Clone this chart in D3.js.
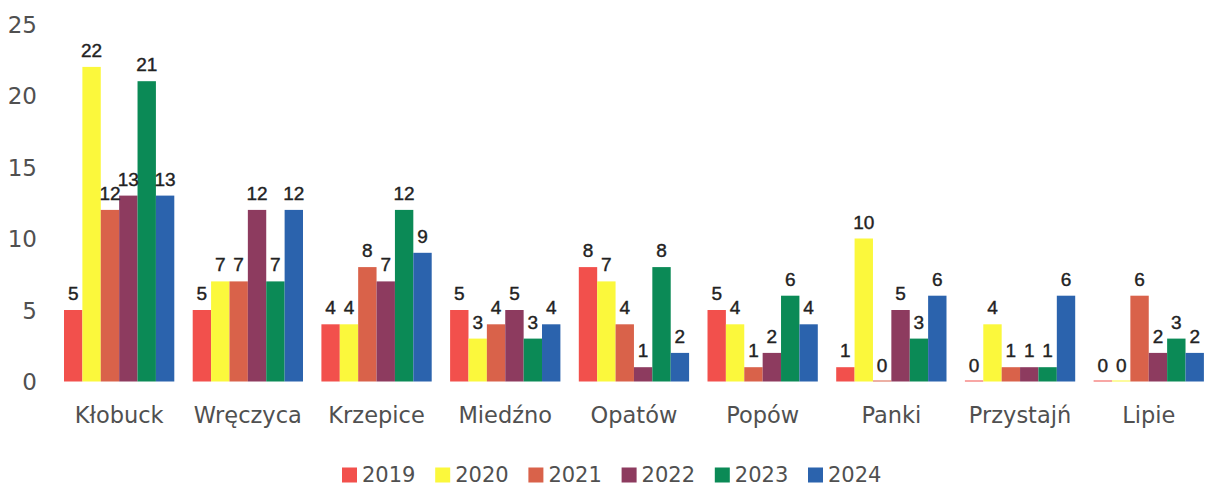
<!DOCTYPE html>
<html>
<head>
<meta charset="utf-8">
<script src="https://cdn.jsdelivr.net/npm/d3@7"></script>
<style>
  html, body { margin: 0; padding: 0; background: #ffffff; }
  svg { display: block; }
</style>
</head>
<body>
<svg id="chart" width="1206" height="486"></svg>
<script>
const categories = ["Kłobuck", "Wręczyca", "Krzepice", "Miedźno", "Opatów", "Popów", "Panki", "Przystajń", "Lipie"];
const seriesNames = ["2019", "2020", "2021", "2022", "2023", "2024"];
const v2019 = [5, 5, 4, 5, 8, 5, 1, 0, 0];
const v2020 = [22, 7, 4, 3, 7, 4, 10, 4, 0];
const v2021 = [12, 7, 8, 4, 4, 1, 0, 1, 6];
const v2022 = [13, 12, 7, 5, 1, 2, 5, 1, 2];
const v2023 = [21, 7, 12, 3, 8, 6, 3, 1, 3];
const v2024 = [13, 12, 9, 4, 2, 4, 6, 6, 2];
const yTicks = [0, 5, 10, 15, 20, 25];
const colors = ["#f2504c", "#fbf83c", "#d9624a", "#8d3b5f", "#0b8a56", "#2b63ad"];

const seriesValues = [v2019, v2020, v2021, v2022, v2023, v2024];
const rows = categories.map((c, i) => ({
  cat: c,
  vals: seriesNames.map((s, j) => ({ series: s, value: seriesValues[j][i], idx: j }))
}));

const svg = d3.select("#chart");
const baseY = 381.5, topY = 24;
const y = d3.scaleLinear().domain([0, 25]).range([baseY, topY]);
const x0 = d3.scaleBand().domain(categories).range([54.8, 1213.1]).paddingInner(0.143).paddingOuter(0.0715);
const x1 = d3.scaleBand().domain(seriesNames).range([0, x0.bandwidth()]).padding(0);
const color = d3.scaleOrdinal().domain(seriesNames).range(colors);

// Y axis labels
const yAxis = d3.axisLeft(y).tickValues(yTicks).tickSize(0).tickPadding(0);
const yg = svg.append("g").attr("transform", "translate(37,0)").call(yAxis);
yg.select(".domain").remove();
yg.selectAll("text")
  .attr("font-family", "DejaVu Sans, sans-serif")
  .attr("font-size", 23)
  .attr("fill", "#505050")
  .attr("dy", "0.36em");

// Bars
const groups = svg.append("g").selectAll("g").data(rows).join("g")
  .attr("transform", d => `translate(${x0(d.cat)},0)`);

groups.selectAll("rect").data(d => d.vals).join("rect")
  .attr("x", d => x1(d.series))
  .attr("width", x1.bandwidth())
  .attr("y", d => Math.min(y(d.value), baseY - 1))
  .attr("height", d => Math.max(baseY - y(d.value), 1))
  .attr("fill", d => color(d.series));

groups.selectAll("text").data(d => d.vals).join("text")
  .attr("x", d => x1(d.series) + x1.bandwidth() / 2)
  .attr("y", d => y(d.value) - 10)
  .attr("text-anchor", "middle")
  .attr("font-family", "Liberation Sans, Arial, sans-serif")
  .attr("font-size", 19)
  .attr("fill", "#222")
  .attr("stroke", "#222")
  .attr("stroke-width", 0.4)
  .text(d => d.value);

// X axis labels
const xAxis = d3.axisBottom(x0).tickSize(0).tickPadding(0);
const xg = svg.append("g").attr("transform", `translate(0,${baseY})`).call(xAxis);
xg.select(".domain").remove();
xg.selectAll("text")
  .attr("font-family", "DejaVu Sans, sans-serif")
  .attr("font-size", 22.5)
  .attr("fill", "#505050")
  .attr("dy", 0)
  .attr("y", 41.5);

// Legend
const legend = svg.append("g").attr("transform", "translate(342,0)");
const step = 93.2;
const li = legend.selectAll("g").data(seriesNames).join("g")
  .attr("transform", (d, i) => `translate(${i * step},0)`);
li.append("rect").attr("x", 0).attr("y", 467.5).attr("width", 15).attr("height", 15)
  .attr("fill", d => color(d));
li.append("text").attr("x", 20).attr("y", 482)
  .attr("font-family", "DejaVu Sans, sans-serif")
  .attr("font-size", 21)
  .attr("fill", "#505050")
  .text(d => d);
</script>
</body>
</html>
